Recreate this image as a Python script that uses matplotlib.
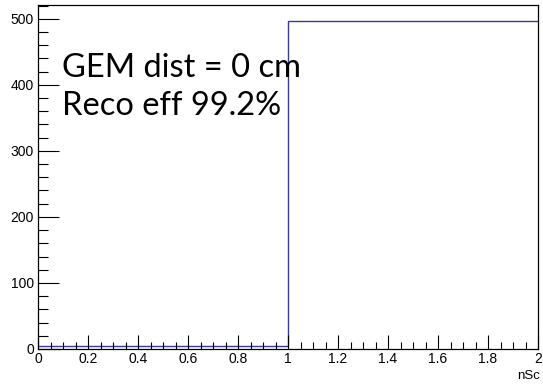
import matplotlib
matplotlib.use("Agg")
import matplotlib.pyplot as plt
import numpy as np
from matplotlib.ticker import MultipleLocator

# Histogram of the number of reconstructed clusters
bin_edges = [0.0, 1.0, 2.0]
counts = [4, 496]
x_ticks = [0, 0.2, 0.4, 0.6, 0.8, 1, 1.2, 1.4, 1.6, 1.8, 2]
x_tick_labels = ["0", "0.2", "0.4", "0.6", "0.8", "1", "1.2", "1.4", "1.6", "1.8", "2"]
y_ticks = [0, 100, 200, 300, 400, 500]
x_label = "nSc"
info_lines = ["GEM dist = 0 cm", "Reco eff 99.2%"]

W, H = 543, 385
fig = plt.figure(figsize=(W / 100, H / 100), dpi=100)
left, right, top, bottom = 38, 538, 5, 349
ax = fig.add_axes([left / W, 1 - bottom / H, (right - left) / W, (bottom - top) / H])

ax.stairs(counts, bin_edges, baseline=None, color="#3a3a90", linewidth=1.0)

ax.set_xlim(0, 2)
ax.set_ylim(0, max(counts) * 1.05)

ax.set_xticks(x_ticks)
ax.set_xticklabels(x_tick_labels)
ax.set_yticks(y_ticks)
ax.xaxis.set_minor_locator(MultipleLocator(0.05))
ax.yaxis.set_minor_locator(MultipleLocator(20))

label_font = {"family": "Liberation Sans", "size": 9.5}
for lbl in ax.get_xticklabels() + ax.get_yticklabels():
    lbl.set_fontfamily("Liberation Sans")
    lbl.set_fontsize(10)

ax.tick_params(axis="x", which="major", direction="in", length=10, width=0.8,
               top=False, pad=2)
ax.tick_params(axis="x", which="minor", direction="in", length=5, width=0.8, top=False)
ax.tick_params(axis="y", which="major", direction="in", length=15, width=0.8,
               right=False, pad=3)
ax.tick_params(axis="y", which="minor", direction="in", length=7.5, width=0.8, right=False)

for sp in ax.spines.values():
    sp.set_linewidth(0.9)
    sp.set_color("black")

fig.text(540 / W, 1 - 376 / H, x_label, ha="right", va="center", **label_font)

for i, line in enumerate(info_lines):
    fig.text(62 / W, 1 - (77 + 38 * i) / H, line, ha="left", va="baseline",
             family="Lato", fontsize=23.5, color="black")

fig.savefig("out.png", dpi=100)
